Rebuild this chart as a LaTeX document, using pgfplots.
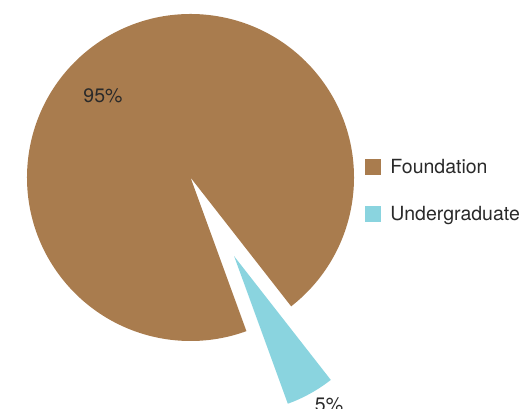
\documentclass[border=0pt]{standalone}
\usepackage{pgfplots}
\pgfplotsset{compat=1.18}
\usepackage{pgfplotstable}
\usepackage{fontspec}
\setmainfont{TeX Gyre Heros}
\usetikzlibrary{calc}
\definecolor{found}{HTML}{A97C4E}
\definecolor{under}{HTML}{8AD4DF}
\definecolor{txt}{HTML}{2A2A2A}

\pgfplotstableread{
label value
Foundation 95
Undergraduate 5
}\piedata
\pgfplotstablegetelem{0}{value}\of\piedata \let\vA\pgfplotsretval
\pgfplotstablegetelem{1}{value}\of\piedata \let\vB\pgfplotsretval
% slice angles
\pgfmathsetmacro{\aS}{-52}
\pgfmathsetmacro{\aE}{\aS+3.6*\vA}
\pgfmathsetmacro{\bE}{\aE+3.6*\vB}
\pgfmathsetmacro{\bM}{(\aE+\bE)/2}

\begin{document}
\begin{tikzpicture}[font=\fontsize{19.5}{22}\selectfont, text=txt]
\begin{axis}[
  width=525pt, height=409pt, scale only axis,
  xmin=0, xmax=525, ymin=0, ymax=409,
  hide axis, clip=false,
  legend style={at={(axis cs:365,252)}, anchor=north west, draw=none, fill=none,
    inner sep=0pt, row sep=27pt, font=\fontsize{19.5}{22}\selectfont, text=txt},
  legend cell align=left,
  legend image code/.code={\fill[draw=none,#1] (0pt,-8pt) rectangle (16pt,8pt);
    \path (23pt,0pt);},
]
\path (axis cs:0,0) rectangle (axis cs:525,409);
% arcs kept out of the bounding box (bezier control points overshoot)
\fill[found, overlay] (axis cs:190.5,231.5) -- ++(\aS:163.5pt)
  arc[start angle=\aS, end angle=\aE, radius=163.5pt] -- cycle;
\fill[under, overlay] ($(axis cs:190.5,231.5)+(\bM:90pt)$) -- ++(\aE:157pt)
  arc[start angle=\aE, end angle=\bE, radius=157pt] -- cycle;
\addlegendimage{fill=found}
\addlegendentry{Foundation}
\addlegendimage{fill=under}
\addlegendentry{Undergraduate}
\node at (axis cs:103,313) {95\%};
\node[overlay] at (axis cs:329,4) {5\%};
\end{axis}
\end{tikzpicture}
\end{document}
